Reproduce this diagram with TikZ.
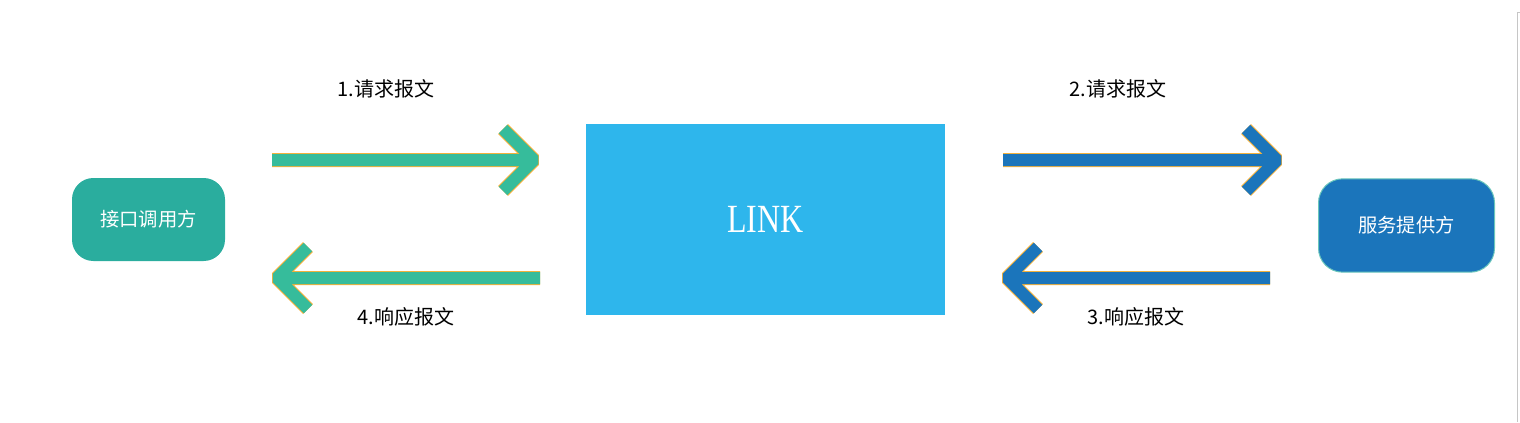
\documentclass[tikz,border=0pt]{standalone}
\usepackage{fontspec}
\newfontfamily\cjk{Noto Sans CJK SC}
\newfontfamily\linkfont[FakeStretch=0.8]{Liberation Serif}
\definecolor{callerteal}{HTML}{2AAD9E}
\definecolor{linkblue}{HTML}{2EB6EC}
\definecolor{providerblue}{HTML}{1B75BB}
\definecolor{arrowgreen}{HTML}{36BC9B}
\definecolor{arroworange}{HTML}{F2B13C}
\tikzset{
	party/.style={rectangle, rounded corners=16pt, text=white, font=\cjk\fontsize{14.5}{16}\selectfont},
	msg/.style={font=\cjk\fontsize{15}{17}\selectfont},
	greenarrow/.style={draw=arrowgreen, line width=9pt, line join=bevel,
		preaction={draw=arroworange, line width=10.5pt, line join=bevel}},
	bluearrow/.style={draw=providerblue, line width=9pt, line join=bevel,
		preaction={draw=arroworange, line width=10.5pt, line join=bevel}}
}
\begin{document}
\begin{tikzpicture}[x=0.75pt, y=-0.75pt]
	\useasboundingbox (0,0) rectangle (1520,422);
	\node [party, fill=callerteal, minimum width=114.75pt, minimum height=62.25pt] (caller) at (148.5,219.5) {接口调用方};
	\node [rectangle, fill=linkblue, text=white, minimum width=269.25pt, minimum height=143.25pt, font=\linkfont\fontsize{30}{32}\selectfont] (link) at (765.5,219.5) {LINK};
	\node [party, fill=providerblue, draw=callerteal!70, line width=0.75pt, rounded corners=18pt, minimum width=132pt, minimum height=70pt] (provider) at (1406.5,225.5) {服务提供方};
	\node [msg] (req1) at (386,89) {1.请求报文};
	\node [msg] (req2) at (1118,89) {2.请求报文};
	\node [msg] (resp3) at (1136,317) {3.响应报文};
	\node [msg] (resp4) at (406,317) {4.响应报文};
	% free arrow ends
	\coordinate (req1 tail) at (272,160);
	\coordinate (req1 tip) at (534,160);
	\coordinate (req2 tail) at (1003,160);
	\coordinate (req2 tip) at (1277,160);
	\coordinate (resp3 tail) at (1270,278);
	\coordinate (resp3 tip) at (1007,278);
	\coordinate (resp4 tail) at (540,278);
	\coordinate (resp4 tip) at (277,278);
	\draw [greenarrow] (req1 tail) -- (req1 tip) ++(-31,-31) -- (req1 tip) -- ++(-31,31);
	\draw [bluearrow] (req2 tail) -- (req2 tip) ++(-31,-31) -- (req2 tip) -- ++(-31,31);
	\draw [bluearrow] (resp3 tail) -- (resp3 tip) ++(31,-31) -- (resp3 tip) -- ++(31,31);
	\draw [greenarrow] (resp4 tail) -- (resp4 tip) ++(31,-31) -- (resp4 tip) -- ++(31,31);
	\draw [gray!45, line width=0.75pt] (1520,12) -- (1517,12) -- (1517,422);
\end{tikzpicture}
\end{document}
